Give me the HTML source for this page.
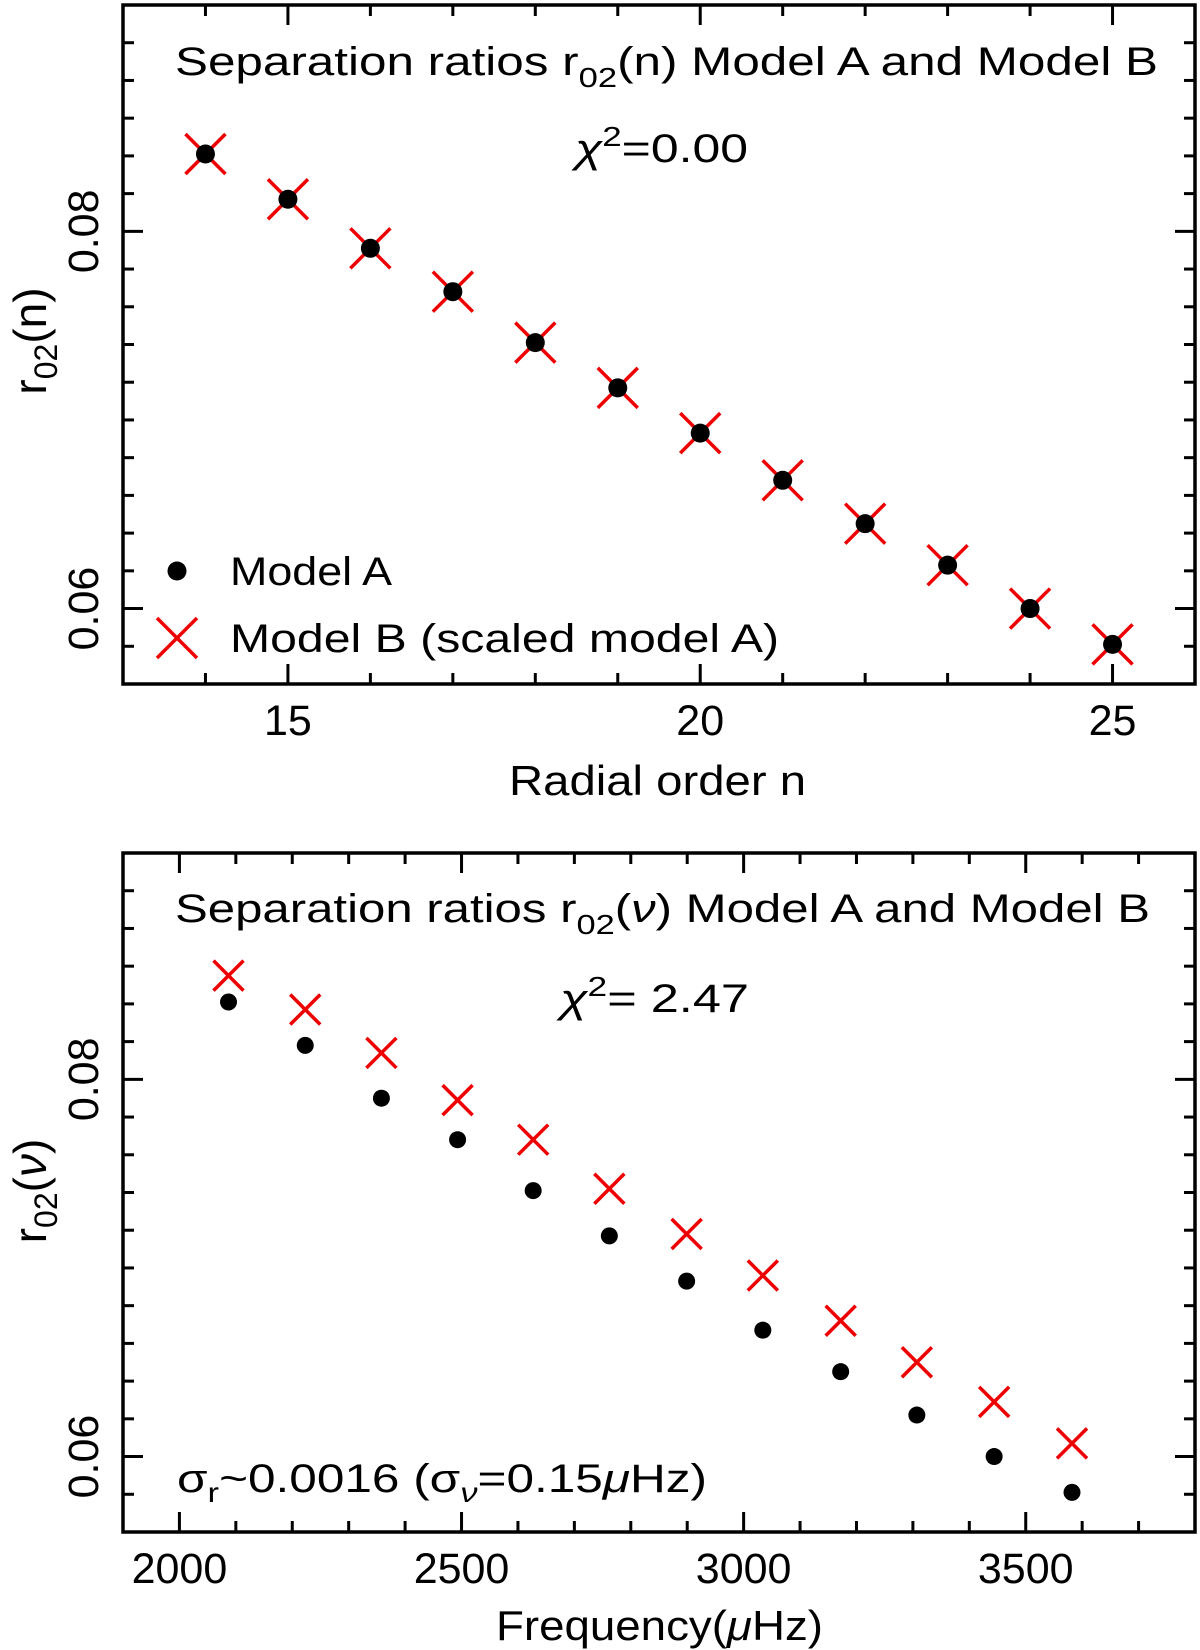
<!DOCTYPE html>
<html><head><meta charset="utf-8"><style>
html,body{margin:0;padding:0;background:#fff;}
svg{display:block;font-family:"Liberation Sans",sans-serif;}
</style></head><body>
<svg id="chart" width="1200" height="1650" viewBox="0 0 1200 1650" xmlns="http://www.w3.org/2000/svg"></svg>
<script>
// ---- data ----
const topN = [14,15,16,17,18,19,20,21,22,23,24,25];
const topModelA = [0.0841,0.0817,0.0791,0.0768,0.0741,0.0717,0.0693,0.0668,0.0645,0.0623,0.0600,0.0581];
const topModelB = [0.0841,0.0817,0.0791,0.0768,0.0741,0.0717,0.0693,0.0668,0.0645,0.0623,0.0600,0.0581];
const botFreq = [2087,2223,2358,2493,2627,2762,2899,3034,3172,3307,3444,3582];
const botModelA = [0.0841,0.0818,0.0790,0.0768,0.0741,0.0717,0.0693,0.0667,0.0645,0.0622,0.0600,0.0581];
const botModelB = [0.0855,0.0837,0.0814,0.0789,0.0768,0.0742,0.0718,0.0696,0.0672,0.0650,0.0629,0.0607];
const topXTicks = [15,20,25];
const botXTicks = [2000,2500,3000,3500];
const yTicks = [0.06,0.08];

const NS='http://www.w3.org/2000/svg';
const svg=document.getElementById('chart');
function mk(tag,attrs,parent){const e=document.createElementNS(NS,tag);for(const k in attrs)e.setAttribute(k,attrs[k]);(parent||svg).appendChild(e);return e;}

function panel(cfg){
  const g=mk('g',{});
  
  
  const L=123,R=1195,T=cfg.top,B=cfg.top+679;
  const xs=v=>L+(v-cfg.xmin)/(cfg.xmax-cfg.xmin)*(R-L);
  const ys=v=>B-(v-0.056)/(0.092-0.056)*(B-T);
  for(let v=cfg.xmin;v<=cfg.xmax+1e-9;v+=cfg.xminor){
    const major=Math.abs(v/cfg.xmajor-Math.round(v/cfg.xmajor))<1e-6;
    const len=major?20:11;const x=xs(v);
    const t1=mk('line',{x1:x,y1:B,x2:x,y2:B-len,stroke:'#000','stroke-width':3},g);
    
    
    const t2=mk('line',{x1:x,y1:T,x2:x,y2:T+len,stroke:'#000','stroke-width':3},g);
    
    
  }
  for(let i=0;i<=18;i++){
    const v=0.056+i*0.002;const major=(i%10)==2;const len=major?20:11;const y=ys(v);
    const t1=mk('line',{x1:L,y1:y,x2:L+len,y2:y,stroke:'#000','stroke-width':3},g);
    
    
    const t2=mk('line',{x1:R,y1:y,x2:R-len,y2:y,stroke:'#000','stroke-width':3},g);
    
    
  }
  const fr=mk('rect',{x:L,y:T,width:R-L,height:B-T,fill:'none',stroke:'#000','stroke-width':3.5},g);
  
  
  cfg.xticks.forEach(v=>{
    const t=mk('text',{x:xs(v),y:B+51,'font-size':43,'text-anchor':'middle'},g);t.textContent=String(v);
    
    
  });
  yTicks.forEach(v=>{
    const y=ys(v);
    const t=mk('text',{x:0,y:0,'font-size':43,'text-anchor':'middle',transform:`translate(98,${y}) rotate(-90)`},g);t.textContent=v.toFixed(2);
    
    
  });
  cfg.xvals.forEach((xv,i)=>{
    const cx=xs(xv),cy=ys(cfg.b[i]),h=cfg.cross;
    const c=mk('path',{d:`M${cx-h},${cy-h}L${cx+h},${cy+h}M${cx-h},${cy+h}L${cx+h},${cy-h}`,stroke:'#e00',fill:'none','stroke-width':3.5},g);
    
    
  });
  cfg.xvals.forEach((xv,i)=>{
    const d=mk('circle',{cx:xs(xv),cy:ys(cfg.a[i]),r:cfg.dot,fill:'#000'},g);
    
    
  });
  return g;
}

panel({name:'top-panel',top:5,xmin:13,xmax:26,xminor:1,xmajor:5,xticks:topXTicks,xvals:topN,a:topModelA,b:topModelB,cross:20,dot:9.5});
panel({name:'bottom-panel',top:853,xmin:1900,xmax:3800,xminor:100,xmajor:500,xticks:botXTicks,xvals:botFreq,a:botModelA,b:botModelB,cross:15,dot:8.5});
</script>
<svg width="1200" height="1650" style="position:absolute;left:0;top:0" font-family="Liberation Sans, sans-serif">
  <text x="175" y="75" font-size="40" textLength="983" lengthAdjust="spacingAndGlyphs">Separation ratios r<tspan font-size="28" dy="12">02</tspan><tspan dy="-12">(n) Model A and Model B</tspan></text>
  <text x="575" y="162" font-size="40" textLength="173" lengthAdjust="spacingAndGlyphs"><tspan font-style="italic">χ</tspan><tspan font-size="28" dy="-16">2</tspan><tspan dy="16">=0.00</tspan></text>
  <circle cx="177" cy="571" r="9.5" fill="#000"/>
  <text x="230" y="585" font-size="40" textLength="162" lengthAdjust="spacingAndGlyphs">Model A</text>
  <path d="M157,618L197,658M157,658L197,618" stroke="#e00" stroke-width="3.5" fill="none"/>
  <text x="230" y="652" font-size="40" textLength="549" lengthAdjust="spacingAndGlyphs">Model B (scaled model A)</text>
  <text x="509" y="795" font-size="42" textLength="297" lengthAdjust="spacingAndGlyphs">Radial order n</text>
  <text transform="translate(46,341) rotate(-90)" text-anchor="middle" font-size="46">r<tspan font-size="32" dy="11">02</tspan><tspan dy="-11">(n)</tspan></text>

  <text x="175" y="922" font-size="40" textLength="975" lengthAdjust="spacingAndGlyphs">Separation ratios r<tspan font-size="28" dy="12">02</tspan><tspan dy="-12">(</tspan><tspan font-style="italic">ν</tspan><tspan>) Model A and Model B</tspan></text>
  <text x="560" y="1012" font-size="40" textLength="189" lengthAdjust="spacingAndGlyphs"><tspan font-style="italic">χ</tspan><tspan font-size="28" dy="-16">2</tspan><tspan dy="16">=  2.47</tspan></text>
  <text x="177" y="1492" font-size="40" textLength="530" lengthAdjust="spacingAndGlyphs">σ<tspan font-size="28" dy="10">r</tspan><tspan dy="-10">~0.0016 (σ</tspan><tspan font-size="28" dy="10" font-style="italic">ν</tspan><tspan dy="-10">=0.15</tspan><tspan font-style="italic">μ</tspan><tspan>Hz)</tspan></text>
  <text x="496" y="1640" font-size="42" textLength="327" lengthAdjust="spacingAndGlyphs">Frequency(<tspan font-style="italic">μ</tspan>Hz)</text>
  <text transform="translate(46,1191) rotate(-90)" text-anchor="middle" font-size="46">r<tspan font-size="32" dy="11">02</tspan><tspan dy="-11">(</tspan><tspan font-style="italic">ν</tspan><tspan>)</tspan></text>
</svg>
</body></html>
